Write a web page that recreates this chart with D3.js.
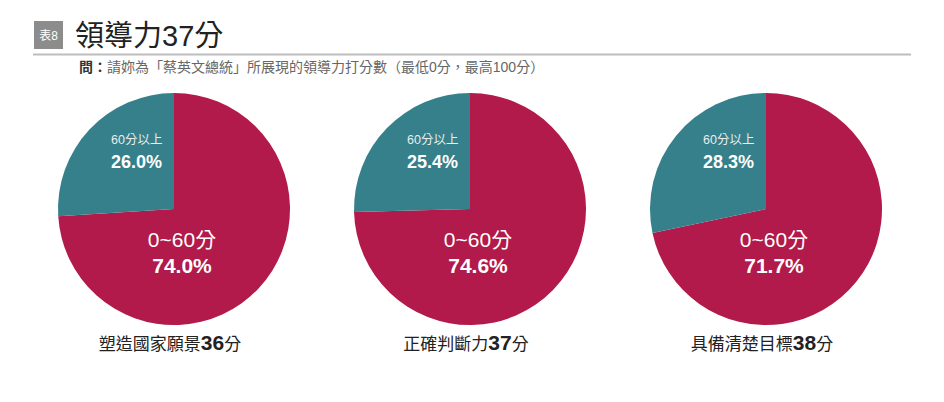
<!DOCTYPE html>
<html>
<head>
<meta charset="utf-8">
<script src="https://cdn.jsdelivr.net/npm/d3@7"></script>
<style>
  body { margin: 0; background: #fff; }
  svg { display: block; font-family: "Liberation Sans", "Noto Sans CJK TC", sans-serif; }
</style>
</head>
<body>
<div id="chart"></div>
<script>
// data
let categories = ["塑造國家願景", "正確判斷力", "具備清楚目標"];
let scores = [36, 37, 38];
let low = [74.0, 74.6, 71.7];    // 0~60分
let high = [26.0, 25.4, 28.3];   // 60分以上
let sliceNames = ["0~60分", "60分以上"];

let width = 944, height = 402;
let svg = d3.select("#chart").append("svg")
    .attr("width", width).attr("height", height);

// header
svg.append("rect").attr("x", 34).attr("y", 21).attr("width", 29).attr("height", 28).attr("fill", "#8c8c8c");
svg.append("text").attr("x", 48.5).attr("y", 40).attr("text-anchor", "middle")
    .attr("fill", "#fff").attr("font-size", 12).text("表8");
svg.append("text").attr("x", 75).attr("y", 46).attr("fill", "#222")
    .attr("font-size", 29).text("領導力37分");
svg.append("line").attr("x1", 33).attr("x2", 911).attr("y1", 54.5).attr("y2", 54.5)
    .attr("stroke", "#bdbdbd").attr("stroke-width", 2);
let sub = svg.append("text").attr("x", 79).attr("y", 72).attr("font-size", 14).attr("fill", "#666");
sub.append("tspan").attr("font-weight", "bold").attr("fill", "#333").text("問：");
sub.append("tspan").text("請妳為「蔡英文總統」所展現的領導力打分數（最低0分，最高100分）");

// pies
let x = d3.scalePoint().domain(categories).range([174, 766]);
let cy = 209, r = 116;
let color = d3.scaleOrdinal().domain(sliceNames).range(["#b11a4a", "#35808a"]);
let pie = d3.pie().sort(null).value(d => d.value);
let arc = d3.arc().innerRadius(0).outerRadius(r);

categories.forEach((c, i) => {
  let data = [{name: sliceNames[0], value: low[i]}, {name: sliceNames[1], value: high[i]}];
  let g = svg.append("g").attr("transform", "translate(" + x(c) + "," + cy + ")");
  g.selectAll("path").data(pie(data)).enter().append("path")
    .attr("d", arc).attr("fill", d => color(d.data.name));

  g.append("text").attr("x", -63).attr("y", -65).attr("fill", "#e8eeee")
    .attr("font-size", 12.5).text(sliceNames[1]);
  g.append("text").attr("x", -63).attr("y", -41).attr("fill", "#fff")
    .attr("font-size", 18).attr("font-weight", "bold").text(high[i].toFixed(1) + "%");

  g.append("text").attr("x", 8).attr("y", 38).attr("text-anchor", "middle").attr("fill", "#fff")
    .attr("font-size", 21).text(sliceNames[0]);
  g.append("text").attr("x", 8).attr("y", 64).attr("text-anchor", "middle").attr("fill", "#fff")
    .attr("font-size", 21).attr("font-weight", "bold").text(low[i].toFixed(1) + "%");

  let lab = g.append("text").attr("x", -4).attr("y", r + 25).attr("text-anchor", "middle")
    .attr("fill", "#222").attr("font-size", 17);
  lab.append("tspan").text(c);
  lab.append("tspan").attr("font-weight", "bold").attr("font-size", 21).text(scores[i]);
  lab.append("tspan").text("分");
});
</script>
</body>
</html>
